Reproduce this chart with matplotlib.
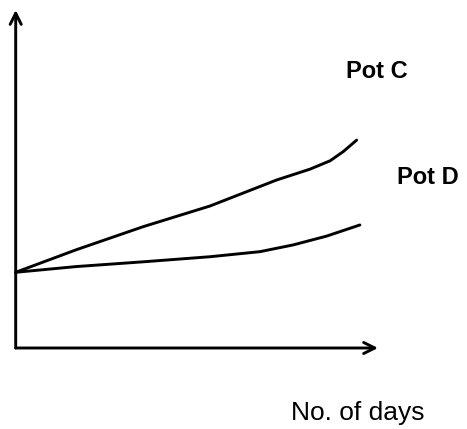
import matplotlib
matplotlib.use("Agg")
import matplotlib.pyplot as plt

# Data (arbitrary units: days on x, growth on y)
days_c = [0, 1.68, 3.52, 5.36, 7.20, 8.12, 8.68, 9.04, 9.41]
pot_c = [2.24, 2.91, 3.59, 4.20, 4.97, 5.29, 5.54, 5.81, 6.15]
days_d = [0, 1.68, 3.52, 5.36, 6.74, 7.66, 8.58, 9.50]
pot_d = [2.24, 2.41, 2.55, 2.70, 2.85, 3.05, 3.31, 3.64]
labels = ["Pot C", "Pot D"]
xlabel = "No. of days"

W, H = 467, 429
fig = plt.figure(figsize=(W / 100, H / 100), dpi=100)
fig.patch.set_facecolor("white")
x0, y0 = 15.7, 348
ax = fig.add_axes([x0 / W, (H - y0) / H, (378 - x0) / W, (y0 - 10) / H])
ax.set_xlim(0, 10)
ax.set_ylim(0, 10)
ax.axis("off")
ax.patch.set_alpha(0)

lw = 2.1
ax.plot(days_c, pot_c, color="black", lw=lw, solid_capstyle="round",
        solid_joinstyle="round", clip_on=False)
ax.plot(days_d, pot_d, color="black", lw=lw, solid_capstyle="round",
        solid_joinstyle="round", clip_on=False)

# axes with arrows
ax.annotate("", xy=(0, 10), xytext=(0, 0), xycoords="data",
            arrowprops=dict(arrowstyle="->", lw=lw, color="black",
                            mutation_scale=20, shrinkA=0, shrinkB=0),
            annotation_clip=False)
ax.annotate("", xy=(10, 0), xytext=(0, 0), xycoords="data",
            arrowprops=dict(arrowstyle="->", lw=lw, color="black",
                            mutation_scale=20, shrinkA=0, shrinkB=0),
            annotation_clip=False)

font = "Liberation Sans"
fig.text(377 / W, 1 - 72 / H, labels[0], ha="center", va="center",
         fontsize=17, fontweight="bold", family=font)
fig.text(428 / W, 1 - 177 / H, labels[1], ha="center", va="center",
         fontsize=17, fontweight="bold", family=font)
fig.text(358 / W, 1 - 413 / H, xlabel, ha="center", va="center",
         fontsize=19, family=font)

fig.savefig("out.png", dpi=100, facecolor="white")
